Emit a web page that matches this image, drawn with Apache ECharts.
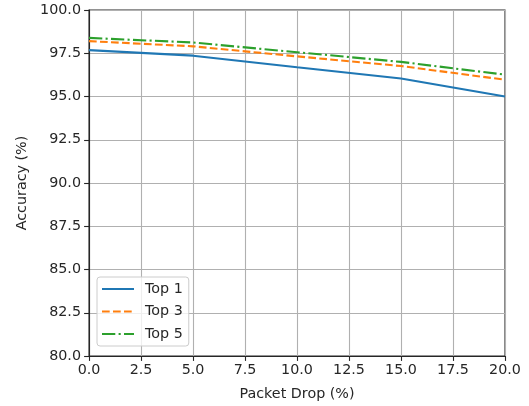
<!DOCTYPE html>
<html>
<head>
<meta charset="utf-8">
<script src="https://cdn.jsdelivr.net/npm/echarts@6/dist/echarts.min.js"></script>
<style>html,body{margin:0;padding:0;background:#fff}#c{width:529px;height:406px}</style>
</head>
<body>
<div id="c"></div>
<script>
const packetDrop = [0, 5, 10, 15, 20];
const top1 = [97.68, 97.36, 96.69, 96.04, 95.0];
const top3 = [98.2, 97.9, 97.32, 96.76, 95.97];
const top5 = [98.39, 98.12, 97.56, 97.0, 96.26];
const xTicks = [0, 2.5, 5, 7.5, 10, 12.5, 15, 17.5, 20];
const yTicks = [80, 82.5, 85, 87.5, 90, 92.5, 95, 97.5, 100];

const font = 'DejaVu Sans';
const fs = 14.3;
const pair = (xs, ys) => xs.map((x, i) => [x, ys[i]]);

const chart = echarts.init(document.getElementById('c'), null, {renderer: 'canvas'});
chart.setOption({
  animation: false,
  backgroundColor: '#fff',
  textStyle: {fontFamily: font},
  grid: {left: 89, right: 24, top: 10, bottom: 50, show: true, borderColor: '#262626', borderWidth: 1.1, backgroundColor: 'transparent'},
  xAxis: {
    type: 'value', min: xTicks[0], max: xTicks[xTicks.length - 1], interval: 2.5,
    name: 'Packet Drop (%)', nameLocation: 'middle', nameGap: 31,
    nameTextStyle: {fontFamily: font, fontSize: fs, color: '#262626'},
    axisLine: {show: true, onZero: false, lineStyle: {color: '#262626', width: 1.1}},
    axisTick: {show: true, length: 4.9, lineStyle: {color: '#262626', width: 1.1}},
    axisLabel: {margin: 7, fontFamily: font, fontSize: fs, color: '#262626', formatter: v => v.toFixed(1)},
    splitLine: {show: true, lineStyle: {color: '#b0b0b0', width: 1.1}}
  },
  yAxis: {
    type: 'value', min: yTicks[0], max: yTicks[yTicks.length - 1], interval: 2.5,
    name: 'Accuracy (%)', nameLocation: 'middle', nameGap: 60, nameRotate: 90,
    nameTextStyle: {fontFamily: font, fontSize: fs, color: '#262626'},
    axisLine: {show: true, onZero: false, lineStyle: {color: '#262626', width: 1.1}},
    axisTick: {show: true, length: 4.9, lineStyle: {color: '#262626', width: 1.1}},
    axisLabel: {margin: 8, fontFamily: font, fontSize: fs, color: '#262626', formatter: v => v.toFixed(1)},
    splitLine: {show: true, lineStyle: {color: '#b0b0b0', width: 1.1}}
  },
  legend: {
    orient: 'vertical', left: 97, top: 277,
    padding: [5, 6, 5, 4],
    itemWidth: 32, itemHeight: 14, itemGap: 8.5,
    itemStyle: {opacity: 0},
    backgroundColor: 'rgba(255,255,255,0.8)', borderColor: '#cccccc', borderWidth: 1, borderRadius: 3,
    textStyle: {fontFamily: font, fontSize: fs, color: '#262626', padding: [0, 0, 0, 6]},
    data: ['Top 1', 'Top 3', 'Top 5']
  },
  series: [
    {name: 'Top 1', type: 'line', data: pair(packetDrop, top1), symbol: 'none', color: '#1f77b4',
     lineStyle: {width: 2.1, color: '#1f77b4', type: 'solid'}},
    {name: 'Top 3', type: 'line', data: pair(packetDrop, top3), symbol: 'none', color: '#ff7f0e',
     lineStyle: {width: 2.1, color: '#ff7f0e', type: [7.7, 3.3]}},
    {name: 'Top 5', type: 'line', data: pair(packetDrop, top5), symbol: 'none', color: '#2ca02c',
     lineStyle: {width: 2.1, color: '#2ca02c', type: [13.3, 3.3, 2.1, 3.3]}}
  ]
});
</script>
</body>
</html>
